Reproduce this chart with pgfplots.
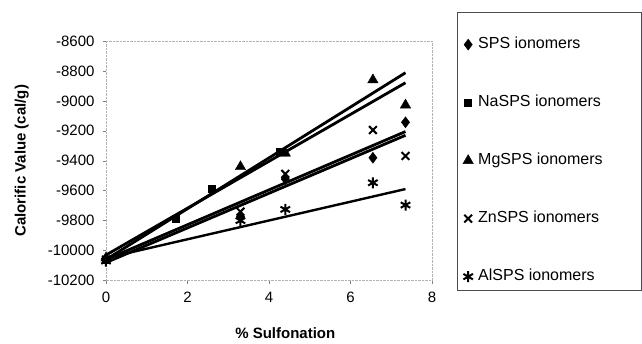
\documentclass[border=0pt]{standalone}
\usepackage{pgfplots}
\pgfplotsset{compat=1.18}
\usepackage{fontspec}
\setmainfont{Liberation Sans}
\begin{document}
\begin{tikzpicture}
\useasboundingbox (-106pt,-62.5pt) rectangle (536pt,280.5pt);
\begin{axis}[
  scale only axis, width=326pt, height=239.5pt,
  xmin=0, xmax=8, ymin=-10200, ymax=-8600,
  xtick={0,2,4,6,8}, ytick={-10200,-10000,...,-8600},
  scaled y ticks=false,
  axis line style={black!30, densely dotted, thin},
  xtick pos=left, ytick pos=left,
  tick align=outside, major tick length=3pt,
  tick style={black!50, thin},
  /pgf/number format/.cd, assume math mode=true, set thousands separator={}, /pgfplots/.cd,
  ticklabel style={font=\fontsize{15}{18}\selectfont},
  yticklabel style={xshift=-5pt},
  xticklabel style={yshift=-5pt},
  xlabel={\% Sulfonation}, ylabel={Calorific Value (cal/g)},
  label style={font=\bfseries\fontsize{15}{18}\selectfont},
  x label style={at={(axis description cs:0.55,-0.219)}, anchor=center},
  y label style={at={(axis description cs:-0.258,0.5)}, anchor=center},
  legend image code/.code={\draw[#1] plot coordinates {(5pt,0pt)};\path (0pt,0pt) (10pt,0pt);},
  legend cell align=left,
  legend style={draw=none, fill=none, at={(1.092,1.018)}, anchor=north west,
    font=\fontsize{16}{19}\selectfont, row sep=42.5pt, column sep=4pt, inner sep=0pt,
    nodes={inner sep=0pt, text height=12pt, text depth=3.5pt}},
]
% trend lines
\addplot[black, line width=2.8pt, forget plot] coordinates {(0,-10060) (7.35,-8812)};
\addplot[black, line width=2.8pt, forget plot] coordinates {(0,-10030) (7.35,-8879)};
\addplot[black, line width=2.8pt, forget plot] coordinates {(0,-10080) (7.35,-9230)};
\addplot[black, line width=2.8pt, forget plot] coordinates {(0,-10060) (7.35,-9205)};
\addplot[black, line width=2.4pt, forget plot] coordinates {(0,-10050) (7.35,-9589)};
% data
\addplot[only marks, mark=diamond*, mark size=5.5pt, black] coordinates {(0,-10060) (3.3,-9773) (4.4,-9522) (6.55,-9380) (7.35,-9143)};
\addlegendentry{SPS ionomers}
\addplot[only marks, mark=square*, mark size=3.5pt, black] coordinates {(0,-10060) (1.72,-9784) (2.59,-9584) (4.27,-9340)};
\addlegendentry{NaSPS ionomers}
\addplot[only marks, mark=triangle*, mark size=6pt, black] coordinates {(0,-10050) (3.3,-9440) (4.4,-9350) (6.55,-8860) (7.35,-9028)};
\addlegendentry{MgSPS ionomers}
\addplot[only marks, mark=x, mark size=5.5pt, black, line width=2pt] coordinates {(0,-10060) (3.3,-9740) (4.4,-9488) (6.55,-9195) (7.35,-9368)};
\addlegendentry{ZnSPS ionomers}
\addplot[only marks, mark=asterisk, mark size=5.5pt, black, line width=2pt] coordinates {(0,-10070) (3.3,-9800) (4.4,-9725) (6.55,-9547) (7.35,-9696)};
\addlegendentry{AlSPS ionomers}
\end{axis}
\draw[line width=0.8pt, black!70] (351pt,-9.5pt) rectangle (535.5pt,268.5pt);
\end{tikzpicture}
\end{document}
